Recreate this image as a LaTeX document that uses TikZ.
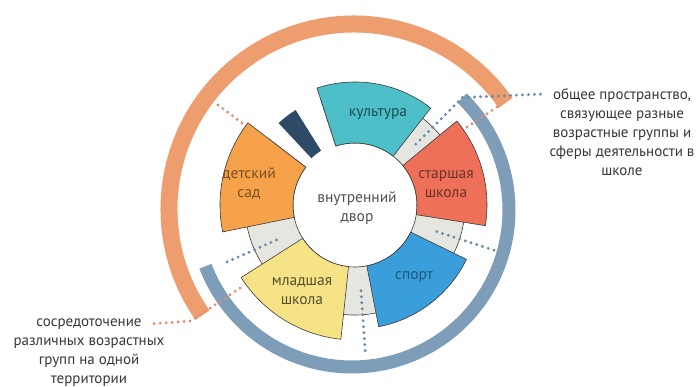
\documentclass[tikz,border=0pt]{standalone}
\usepackage{fontspec}
\setmainfont{PT Sans}
\usepackage{tikz}
\usetikzlibrary{calc}
\definecolor{edge}{HTML}{3A3A3A}
\definecolor{cult}{HTML}{4DBFC9}
\definecolor{senior}{HTML}{EF7059}
\definecolor{sport}{HTML}{3A9EDB}
\definecolor{junior}{HTML}{F6E386}
\definecolor{kinder}{HTML}{F5A24A}
\definecolor{navy}{HTML}{2E4A66}
\definecolor{yard}{HTML}{E6E6E1}
\definecolor{arcor}{HTML}{EE9D6E}
\definecolor{arcbl}{HTML}{7E9DB8}
\definecolor{dotor}{HTML}{E48C70}
\definecolor{dotbl}{HTML}{6A8BA8}
\definecolor{note}{HTML}{383838}
\tikzset{
  seg/.style={draw=edge, line width=0.6pt, line join=round},
  bigarc/.style={line cap=butt},
  dots/.style={line width=3.2pt, line cap=round, dash pattern=on 0pt off 6pt},
  lab/.style={font=\fontsize{15.5}{19}\selectfont, align=center},
  side/.style={font=\fontsize{15}{19}\selectfont, align=center, text=note},
}
\begin{document}
\begin{tikzpicture}[x=1pt,y=1pt]
  \useasboundingbox (-355,-182) rectangle (344,205);
  \fill[white] (-355,-182) rectangle (344,205);
  \def\rin{62}
  \coordinate (O) at (0,0);
  \coordinate (Co) at (-1,-4);
  \coordinate (Cb) at (-3,-5);
  % outer arcs
  \draw[bigarc, draw=arcor, line width=17pt] ([shift={(Co)}]35:185) arc[start angle=35, end angle=215, radius=185];
  \draw[bigarc, draw=arcbl, line width=13pt] ([shift={(Cb)}]45.5:157) arc[start angle=45.5, end angle=-159, radius=157];
  % grey ring and sectors
  \draw[seg, fill=yard] (142.5:\rin) arc[start angle=142.5, end angle=468, radius=\rin] -- (468:110) arc[start angle=468, end angle=142.5, radius=110] -- cycle;
  \foreach \a/\b/\ro/\col in {52/108/123/cult, -9/39.5/132/senior, -79/-26/124/sport, 212.5/264/135/junior, 142.5/191.5/135/kinder}
    \draw[seg, fill=\col] (\a:\rin) arc[start angle=\a, end angle=\b, radius=\rin] -- (\b:\ro) arc[start angle=\b, end angle=\a, radius=\ro] -- cycle;
  \fill[navy] (122:64) arc[start angle=122, end angle=133, radius=64] -- (133:112) arc[start angle=133, end angle=122, radius=112] -- cycle;
  % labels
  \node[lab, text=cult!40!black] (culture) at (23,91) {культура};
  \node[lab, text=kinder!50!black] (kinder) at (-106,21) {детский\\сад};
  \node[lab, text=black!68] (yard) at (2,-3) {внутренний\\двор};
  \node[lab, text=senior!45!black] (senior) at (91,21) {старшая\\школа};
  \node[lab, text=sport!55!black] (sport) at (59,-72) {спорт};
  \node[lab, text=junior!35!black] (junior) at (-53,-86) {младшая\\школа};
  \node[side] (space) at (267,73) {общее пространство,\\связующее разные\\возрастные группы и\\сферы деятельности в\\школе};
  \node[side] (focus) at (-266,-148) {сосредоточение\\различных возрастных\\групп на одной\\территории};
  % dotted leaders
  \coordinate (kd1) at (-113,82);
  \coordinate (kd2) at (-137,100);
  \coordinate (sd1) at (112,78);
  \coordinate (sd2) at (142,98);
  \coordinate (jd1) at (-115,-83);
  \coordinate (jd2) at (-164,-116);
  \coordinate (jd3) at (-206,-119);
  \coordinate (spacetip) at (190,111);
  \draw[dots, draw=dotor] (kd1) -- (kd2);
  \draw[dots, draw=dotor] (sd1) -- (sd2);
  \draw[dots, draw=dotor] (jd1) -- (jd2) -- (jd3);
  \draw[dots, draw=dotbl] (45:86) -- (45:152) -- (spacetip);
  \foreach \t/\e in {-18/146, -86/150, 204/146}
    \draw[dots, draw=dotbl] (\t:86) -- (\t:\e);
\end{tikzpicture}
\end{document}
